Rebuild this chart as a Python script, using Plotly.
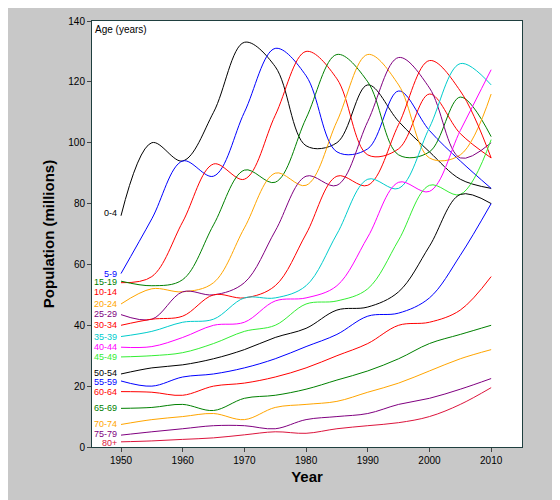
import plotly.graph_objects as go

years = [1950, 1955, 1960, 1965, 1970, 1975, 1980, 1985, 1990, 1995, 2000, 2005, 2010]

ages = ["0-4", "5-9", "10-14", "15-19", "20-24", "25-29", "30-34", "35-39",
        "40-44", "45-49", "50-54", "55-59", "60-64", "65-69", "70-74", "75-79", "80+"]

colors = ["black", "blue", "red", "green", "orange", "purple", "red", "#00cccc",
          "magenta", "#33ee33", "black", "blue", "red", "green", "orange", "purple", "crimson"]

population = [
    [76, 100, 94, 110, 133, 125, 99, 100, 119, 107, 97, 88, 85],
    [57, 75, 94, 89, 110, 131, 122, 97, 98, 117, 104, 94, 85],
    [54, 56, 74, 93, 88, 109, 130, 121, 96, 98, 116, 103, 95],
    [54.5, 53, 55, 73, 91, 87, 108, 129, 120, 96, 97, 115, 102],
    [47, 52, 51, 54, 72, 90, 86, 107, 129, 119, 95, 96, 116],
    [43.5, 42, 51, 50, 54, 71, 89, 86, 107, 128, 118, 95, 100],
    [40, 42, 43, 50, 49, 53, 70, 89, 86, 106, 127, 117, 95],
    [36.3, 38, 41, 42, 49, 49, 53, 70, 88, 85, 105, 126, 119],
    [32.8, 33, 36, 40, 41, 48, 49, 53, 69, 87, 84, 104, 124],
    [29.6, 30, 31, 34, 38, 40, 47, 48, 52, 68, 86, 83, 101],
    [24, 26, 27, 29, 32, 36, 39, 45, 46, 51, 66, 83, 80],
    [21.7, 20, 23, 24, 26, 29, 33, 37, 43, 44, 49, 63, 80],
    [18.2, 18, 17, 20, 21, 23, 26, 30, 34, 40, 41, 45, 56],
    [12.7, 13, 14, 12, 16, 17, 19, 22, 25, 29, 34, 37, 40],
    [7.4, 9, 10, 11, 9, 13, 14, 15, 18, 21, 25, 29, 32],
    [3.9, 5, 6, 7, 7, 6, 9, 10, 11, 14, 16, 19, 22.5],
    [1.7, 2, 2.5, 3, 4, 5, 4.5, 6, 7, 8, 10, 14, 19.5],
]

label_y = [77, 57, 51, 54.2, 47, 43.8, 40, 36.3, 32.8, 29.6, 24.3, 21.2, 18, 12.7, 7.6, 4.2, 1.3]

fig = go.Figure()

for age, color, vals, ly in zip(ages, colors, population, label_y):
    fig.add_trace(go.Scatter(
        x=years, y=vals, mode="lines", name=age,
        line=dict(color=color, width=1, shape="spline", smoothing=1.0),
        hoverinfo="none",
    ))
    fig.add_annotation(x=1949.5, y=ly, text=age, showarrow=False,
                       xanchor="right", yanchor="middle", borderpad=0,
                       font=dict(family="Liberation Sans, Arial", size=9, color=color))

fig.add_annotation(x=0.003, y=0.998, xref="paper", yref="paper", text="Age (years)",
                   showarrow=False, xanchor="left", yanchor="top",
                   font=dict(family="Liberation Sans, Arial", size=10, color="black"))

fig.update_layout(
    width=560, height=500,
    paper_bgcolor="#c8c8c8", plot_bgcolor="white",
    margin=dict(l=84, r=46, t=7, b=61),
    showlegend=False,
    font=dict(family="Liberation Sans, Arial", size=10, color="black"),
    xaxis=dict(range=[1945.3, 2015], tickvals=[1950, 1960, 1970, 1980, 1990, 2000, 2010],
               ticks="outside", ticklen=4, showgrid=False, zeroline=False,
               showline=True, linecolor="#1f3f3f", mirror=True,
               title=dict(text="<b>Year</b>", font=dict(size=15), standoff=6)),
    yaxis=dict(range=[0, 140], dtick=20, ticks="outside", ticklen=4,
               showgrid=False, zeroline=False,
               showline=True, linecolor="#1f3f3f", mirror=True,
               title=dict(text="<b>Population (millions)</b>", font=dict(size=15), standoff=10)),
)

fig.write_html("out.html")
